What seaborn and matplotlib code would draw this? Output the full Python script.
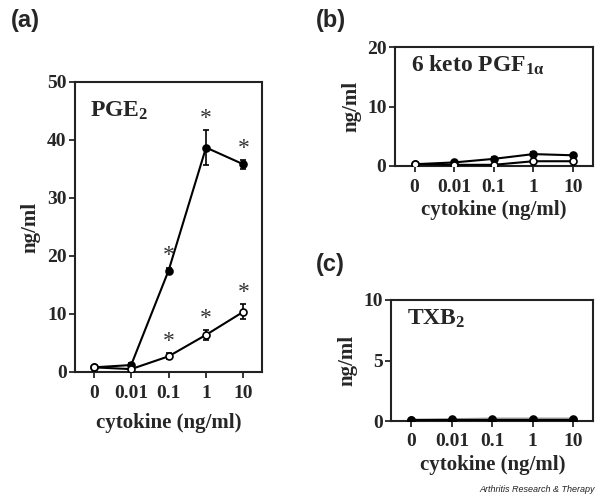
import numpy as np
import pandas as pd
import matplotlib
matplotlib.use('Agg')
import matplotlib.pyplot as plt
import seaborn as sns

# ----------------- data -----------------
doses = ['0', '0.01', '0.1', '1', '10']

pge2_filled = [0.8, 1.2, 17.5, 38.7, 35.8]
pge2_filled_err = [0.3, 0.3, 0.5, 3.0, 0.8]
pge2_open = [0.8, 0.5, 2.7, 6.4, 10.4]
pge2_open_err = [0.3, 0.2, 0.5, 0.9, 1.3]
pge2_star = [False, False, True, True, True]      # filled
pge2_open_star = [False, False, True, True, True]

keto_filled = [0.3, 0.6, 1.2, 2.0, 1.8]
keto_filled_err = [0.1, 0.2, 0.3, 0.3, 0.3]
keto_open = [0.3, 0.2, 0.2, 0.8, 0.8]
keto_open_err = [0.1, 0.1, 0.1, 0.2, 0.2]

txb_filled = [0.1, 0.1, 0.1, 0.1, 0.1]
txb_open = [0.1, 0.15, 0.2, 0.2, 0.2]

sns.set_style('ticks')
plt.rcParams['font.family'] = ['Liberation Serif', 'DejaVu Serif']
plt.rcParams['mathtext.fontset'] = 'custom'
plt.rcParams['mathtext.rm'] = 'Liberation Serif:bold'
plt.rcParams['mathtext.it'] = 'Liberation Serif:bold'
plt.rcParams['mathtext.bf'] = 'Liberation Serif:bold'

fig = plt.figure(figsize=(6, 5), dpi=100)
ax_a = fig.add_axes([0.125, 0.256, 0.312, 0.58])
ax_b = fig.add_axes([0.658, 0.668, 0.33, 0.238])
ax_c = fig.add_axes([0.652, 0.158, 0.337, 0.242])

x = np.arange(len(doses))


def draw_series(ax, vals, errs, filled, lcolor='black'):
    df = pd.DataFrame({'dose': x, 'val': vals})
    sns.lineplot(data=df, x='dose', y='val', ax=ax, color=lcolor, lw=1.5,
                 marker='o', markersize=5, markeredgewidth=1.2,
                 markerfacecolor='black' if filled else 'white',
                 markeredgecolor='black', zorder=3)
    if errs is not None:
        ax.errorbar(x, vals, yerr=errs, fmt='none', ecolor='black',
                    elinewidth=1.2, capsize=2.5, capthick=1.2, zorder=2)


def style_axes(ax, ylim, yticks, label):
    ax.set_xlim(-0.5, 4.5)
    ax.set_ylim(*ylim)
    ax.set_xticks(x)
    ax.set_xticklabels(doses)
    ax.set_yticks(yticks)
    for s in ax.spines.values():
        s.set_visible(True)
        s.set_linewidth(1.5)
        s.set_color('#222222')
    ax.tick_params(axis='both', direction='out', length=4, width=1.3,
                   labelsize=14, top=False, right=False, pad=2)
    ax.tick_params(axis='x', pad=5)
    for t in ax.get_xticklabels() + ax.get_yticklabels():
        t.set_fontweight('bold')
    ax.set_xlabel('cytokine (ng/ml)', fontsize=15, fontweight='bold', labelpad=3)
    ax.set_ylabel('ng/ml', fontsize=15, fontweight='bold', labelpad=4)
    ax.text(0.08, 0.94, label, transform=ax.transAxes, fontsize=17,
            fontweight='bold', va='top', ha='left')


# (a) PGE2
draw_series(ax_a, pge2_filled, pge2_filled_err, True)
draw_series(ax_a, pge2_open, pge2_open_err, False)
for i in range(len(doses)):
    if pge2_star[i]:
        ax_a.text(x[i], pge2_filled[i] + pge2_filled_err[i] + 0.2, '*',
                  ha='center', va='bottom', fontsize=17, color='#333333')
    if pge2_open_star[i]:
        ax_a.text(x[i], pge2_open[i] + pge2_open_err[i] + 0.2, '*',
                  ha='center', va='bottom', fontsize=17, color='#333333')
style_axes(ax_a, (0, 50), [0, 10, 20, 30, 40, 50], r'PGE$_\mathregular{2}$')
ax_a.set_ylabel('ng/ml', fontsize=15, fontweight='bold', labelpad=5)
ax_a.set_xlabel('cytokine (ng/ml)', fontsize=15, fontweight='bold', labelpad=8)

# (b) 6 keto PGF1a
draw_series(ax_b, keto_filled, keto_filled_err, True)
draw_series(ax_b, keto_open, keto_open_err, False)
style_axes(ax_b, (0, 20), [0, 10, 20], r'6 keto PGF$_{\mathregular{1}\alpha}$')

# (c) TXB2
draw_series(ax_c, txb_open, None, False, lcolor='#999999')
draw_series(ax_c, txb_filled, None, True)
style_axes(ax_c, (0, 10), [0, 5, 10], r'TXB$_\mathregular{2}$')

# panel letters
for lbl, (px, py) in zip(['(a)', '(b)', '(c)'], [(11, 20), (316, 20), (316, 265)]):
    fig.text(px / 600, 1 - py / 500, lbl, fontsize=17, fontweight='bold',
             family='Liberation Sans', va='center', ha='left')

fig.text(0.992, 0.012, 'Arthritis Research & Therapy', fontsize=6.5,
         style='italic', family='Liberation Sans', ha='right', va='bottom',
         color='#222222')

fig.savefig('out.png', dpi=100)
